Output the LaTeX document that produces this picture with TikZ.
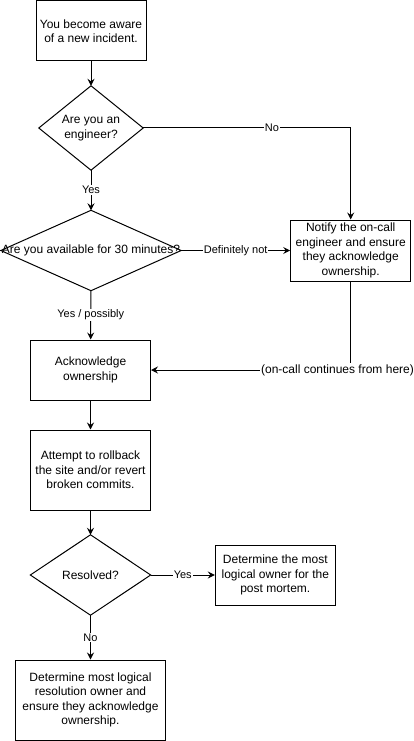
\documentclass[tikz,border=0pt]{standalone}
\usepackage{fontspec}
\setmainfont{Liberation Sans}
\usetikzlibrary{arrows.meta}

\tikzset{
    box/.style={draw, line width=1pt, fill=white, inner sep=0pt, align=center, font=\fontsize{12}{14.5}\selectfont},
    decision/.style={rectangle, inner sep=0pt, align=center, font=\fontsize{12}{14.5}\selectfont},
    lbl/.style={fill=white, inner sep=1pt, font=\fontsize{11}{13}\selectfont},
    flow/.style={line width=1pt, -{Stealth[length=7pt,width=7pt,inset=2.5pt]}}
}

\begin{document}
\begin{tikzpicture}[x=1pt, y=-1pt]
                \useasboundingbox (0,0) rectangle (414,741);

                \node[box, minimum width=110pt, minimum height=60pt] (aware) at (91,31) {You become aware\\of a new incident.};
                \node[decision, minimum width=104pt, minimum height=84pt] (engineer) at (91,128) {Are you an\\engineer?};
                \node[decision, minimum width=180pt, minimum height=80pt] (avail) at (91,250.5) {Are you available for 30 minutes?};
                \node[box, minimum width=120pt, minimum height=61pt] (notify) at (350.7,250.5) {Notify the on-call\\engineer and ensure\\they acknowledge\\ownership.};

                \node[box, minimum width=120pt, minimum height=60pt] (ack) at (90.5,370) {Acknowledge\\ownership};
                \node[box, minimum width=120pt, minimum height=80pt] (attempt) at (90.5,470) {Attempt to rollback\\the site and/or revert\\broken commits.};
                \node[decision, minimum width=120pt, minimum height=80pt] (resolved) at (90.5,575) {Resolved?};
                \node[box, minimum width=120pt, minimum height=60pt] (owner) at (275.3,575) {Determine the most\\logical owner for the\\post mortem.};
                \node[box, minimum width=150pt, minimum height=80pt] (resolution) at (90.5,700) {Determine most logical\\resolution owner and\\ensure they acknowledge\\ownership.};

                \node[lbl, font=\fontsize{12}{14}\selectfont] (oncall) at (337.5,370) {(on-call continues from here)};

                \foreach \q in {engineer,avail,resolved}
                    \draw[line width=1pt] (\q.north) -- (\q.east) -- (\q.south) -- (\q.west) -- cycle;

                \draw[flow] (aware) -- (engineer);
                \draw[flow] (engineer.east) -- node[lbl, pos=0.62] {No} (engineer.east -| notify.north) -- (notify.north);
                \draw[flow] (engineer) -- node[lbl] {Yes} (avail);
                \draw[flow] (avail) -- node[lbl] {Definitely not} (notify);
                \draw[flow] (avail) -- node[lbl] {Yes / possibly} (ack);

                \draw[line width=1pt] (notify) -- (notify.south |- oncall.north);
                \draw[flow] (oncall) -- (ack);

                \draw[flow] (ack) -- (attempt);
                \draw[flow] (attempt) -- (resolved);
                \draw[flow] (resolved) -- node[lbl] {Yes} (owner);
                \draw[flow] (resolved) -- node[lbl] {No} (resolution);
            \end{tikzpicture}
\end{document}
